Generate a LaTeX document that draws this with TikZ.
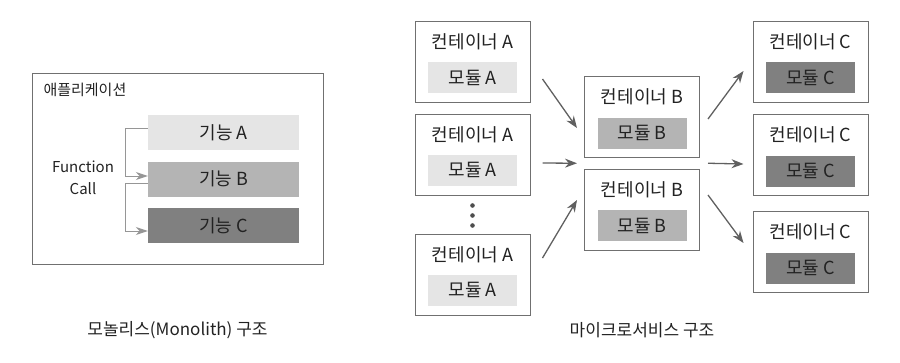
\documentclass[tikz,border=0pt]{standalone}
\usepackage{fontspec}
\setmainfont{Noto Sans CJK KR}
\usepackage{tikz}
\usetikzlibrary{arrows.meta,calc,positioning}
\usepackage{xcolor}
\definecolor{kline}{RGB}{112,112,112}
\definecolor{karrow}{RGB}{96,96,96}
\definecolor{kcall}{RGB}{150,150,150}
\definecolor{ktext}{RGB}{34,34,34}
\definecolor{klight}{RGB}{229,229,229}
\definecolor{kmid}{RGB}{180,180,180}
\definecolor{kdark}{RGB}{128,128,128}

\tikzset{
  appbox/.style={draw=kline,line width=1pt,minimum width=291pt,minimum height=191pt},
  func/.style={minimum width=151pt,minimum height=35pt,font=\fontsize{18}{20}\selectfont,text=ktext},
  cont/.style={draw=kline,fill=white,line width=1pt,minimum width=115pt,minimum height=81pt},
  modbox/.style={minimum width=89pt,minimum height=31pt,font=\fontsize{18}{20}\selectfont,text=ktext},
  ctitle/.style={font=\fontsize{18}{20}\selectfont,text=ktext},
  flow/.style={-{Stealth[length=12pt,width=9pt]},draw=karrow,line width=1.3pt},
  call/.style={-{Stealth[length=12pt,width=8pt]},draw=kcall,line width=1pt},
}

\begin{document}
\begin{tikzpicture}[x=1pt,y=-1pt]
  \useasboundingbox (0,0) rectangle (900,362);
  % monolith
  \node[appbox] (app) at (177.5,168.5) {};
  \node[anchor=west,font=\fontsize{15}{17}\selectfont,text=ktext] (appname) at (40,90) {애플리케이션};
  \node[func,fill=klight] (fA) at (223.5,132.5) {기능 A};
  \node[func,fill=kmid] (fB) at (223.5,179) {기능 B};
  \node[func,fill=kdark] (fC) at (223.5,225.5) {기능 C};
  \node[align=center,font=\fontsize{15}{22}\selectfont,text=ktext] (fcall) at (83,178) {Function\\Call};
  \draw[call] ([yshift=4.5pt]fA.west) -- ++(-22,0) |- ([yshift=3pt]fB.west);
  \draw[call] ([yshift=-4pt]fB.west) -- ++(-22,0) |- ([yshift=-5.5pt]fC.west);
  \node[font=\fontsize{17}{19}\selectfont,text=ktext] (capL) at (177.5,330) {모놀리스(Monolith) 구조};
  % microservices
  \foreach \n/\y in {A1/62,A2/154.5,A3/274.5}{
    \node[cont] (\n) at (472.5,\y) {};
    \node[ctitle] at ($(\n.north)+(0,21)$) {컨테이너 A};
    \node[modbox,fill=klight] at ($(\n.north)+(0,56.5)$) {모듈 A};
  }
  \foreach \n/\y in {B1/117,B2/209.5}{
    \node[cont] (\n) at (642,\y) {};
    \node[ctitle] at ($(\n.north)+(0,21)$) {컨테이너 B};
    \node[modbox,fill=kmid] at ($(\n.north)+(0,57)$) {모듈 B};
  }
  \foreach \n/\y in {C1/61.5,C2/155,C3/252}{
    \node[cont] (\n) at (810.5,\y) {};
    \node[ctitle] at ($(\n.north)+(0,21)$) {컨테이너 C};
    \node[modbox,fill=kdark] at ($(\n.north)+(0,57)$) {모듈 C};
  }
  \foreach \d in {10,20,30}
    \fill[ktext!80] ($(A2.south)+(0,\d)$) circle (2.3pt);
  \coordinate (gapB) at ($(B1.south west)!0.5!(B2.north west)$);
  \coordinate (gapBe) at ($(B1.south east)!0.5!(B2.north east)$);
  \draw[flow] ($(A1.east)+(12,17)$) -- ($(B1.west)+(-7,11)$);
  \draw[flow] ($(A2.east)+(12,8.5)$) -- ($(gapB)+(-7,0)$);
  \draw[flow] ($(A3.east)+(12,-16.5)$) -- ($(B2.west)+(-7,-9.5)$);
  \draw[flow] ($(B1.east)+(8,2)$) -- ($(C1.west)+(-9,9.5)$);
  \draw[flow] ($(gapBe)+(8,0)$) -- ($(C2.west)+(-9,9)$);
  \draw[flow] ($(B2.east)+(8,-14.5)$) -- ($(C3.west)+(-9,-9)$);
  \node[font=\fontsize{17}{19}\selectfont,text=ktext] (capR) at (642,330) {마이크로서비스 구조};
\end{tikzpicture}
\end{document}
